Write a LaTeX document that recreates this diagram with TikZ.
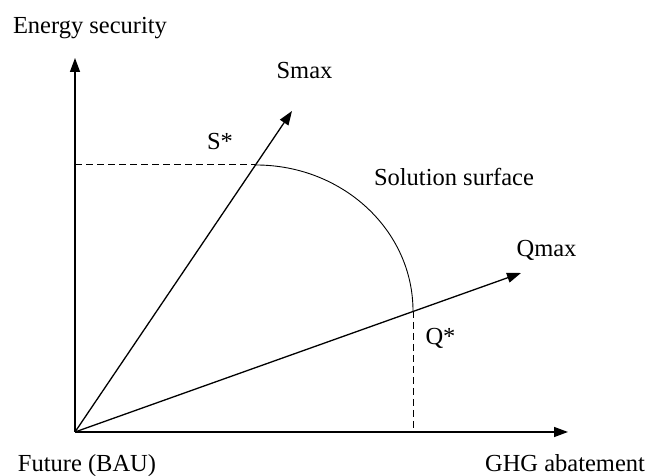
\documentclass[tikz,border=0pt]{standalone}
\usepackage{fontspec}
\setmainfont{Liberation Serif}
\usetikzlibrary{arrows.meta}
\begin{document}
\begin{tikzpicture}[x=1pt,y=1pt,
  axis/.style={line width=1.4pt,-{Triangle[length=14pt,width=10pt]}},
  ray/.style={line width=1.3pt,-{Triangle[length=14pt,width=10pt]}},
  guide/.style={line width=1pt,dash pattern=on 7pt off 4pt},
  surf/.style={line width=0.9pt},
  lbl/.style={font=\fontsize{24.5}{28}\selectfont,anchor=base,inner sep=0pt}]
\useasboundingbox (0,0) rectangle (651,476);
\coordinate (O) at (75,44);
\coordinate (Ytip) at (75,418);
\coordinate (Xtip) at (568,44);
\coordinate (Stip) at (292,365);
\coordinate (Qtip) at (521,203);
\coordinate (Sstar) at (256,311);
\coordinate (Qstar) at (413,165);
\coordinate (Sy) at (75,311);
\coordinate (Qx) at (413,44);
\draw[axis] (O) -- (Ytip);
\draw[axis] (O) -- (Xtip);
\draw[ray] (O) -- (Stip);
\draw[ray] (O) -- (Qtip);
\draw[guide] (Sy) -- (Sstar);
\draw[guide] (Qstar) -- (Qx);
\draw[surf] (Sstar) arc[start angle=90,end angle=0,x radius=157,y radius=146];
\node[lbl] (ES) at (90,442) {Energy security};
\node[lbl] (SM) at (304.5,397) {Smax};
\node[lbl] (SS) at (220,326) {S*};
\node[lbl] (SO) at (454,290) {Solution surface};
\node[lbl] (QM) at (546.5,219) {Qmax};
\node[lbl] (QS) at (440.5,131) {Q*};
\node[lbl] (FU) at (87,4) {Future (BAU)};
\node[lbl] (GH) at (565,4) {GHG abatement};
\end{tikzpicture}
\end{document}
